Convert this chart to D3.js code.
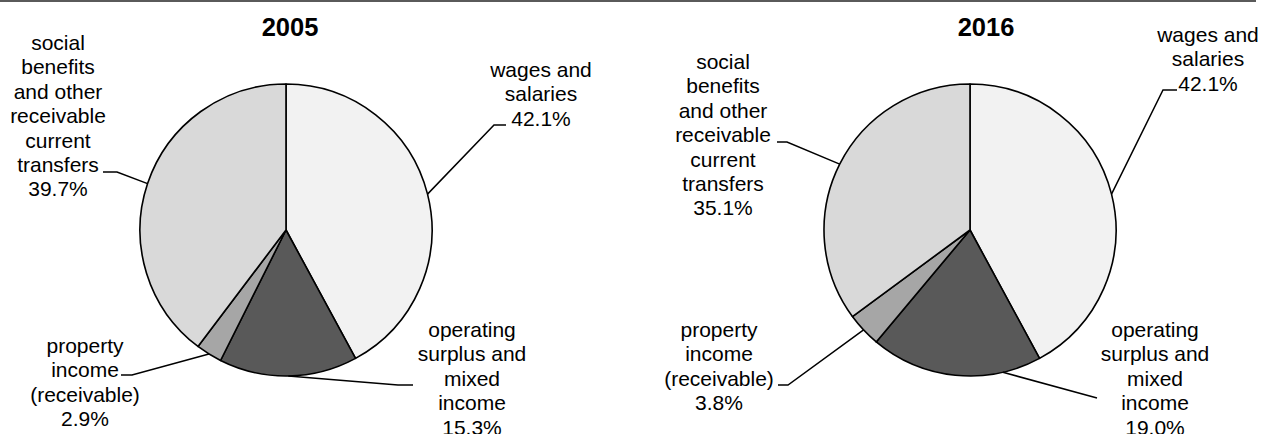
<!DOCTYPE html>
<html>
<head>
<meta charset="utf-8">
<script src="https://cdn.jsdelivr.net/npm/d3@7/dist/d3.min.js"></script>
<style>
  html, body { margin: 0; padding: 0; background: #fff; }
  svg { display: block; }
  text { font-family: "Liberation Sans", Arial, sans-serif; fill: #000; }
</style>
</head>
<body>
<svg id="chart" width="1263" height="434"></svg>
<script>
// ---- data ----
const categories = [
  "wages and salaries",
  "operating surplus and mixed income",
  "property income (receivable)",
  "social benefits and other receivable current transfers"
];
const labelLines = [
  ["wages and", "salaries"],
  ["operating", "surplus and", "mixed", "income"],
  ["property", "income", "(receivable)"],
  ["social", "benefits", "and other", "receivable", "current", "transfers"]
];
const years = ["2005", "2016"];
const values2005 = [42.1, 15.3, 2.9, 39.7];
const values2016 = [42.1, 19.0, 3.8, 35.1];
const colors = ["#f2f2f2", "#595959", "#a6a6a6", "#d9d9d9"];

// ---- layout (positions only) ----
const W = 1263, H = 434;
const R = 146;
const panels = [
  {
    year: years[0], values: values2005, cx: 286, cy: 230, titleX: 290,
    labels: [
      { x: 541, y: 77,  elbow: [494, 125], end: [506, 125] },
      { x: 472, y: 337, elbow: [398, 385], end: [413, 385] },
      { x: 85,  y: 353, elbow: [132, 375], end: [121, 375] },
      { x: 58,  y: 50,  elbow: [117, 172], end: [103, 172] }
    ]
  },
  {
    year: years[1], values: values2016, cx: 970, cy: 230, titleX: 986,
    labels: [
      { x: 1208, y: 42,  elbow: [1163, 90],  end: [1177, 90] },
      { x: 1155, y: 337, elbow: [1097, 398], end: [1097, 398], angle: 167 },
      { x: 719,  y: 337, elbow: [788, 385],  end: [778, 385] },
      { x: 723,  y: 69,  elbow: [787, 142],  end: [777, 142] }
    ]
  }
];
const lineH = 24.4;

const svg = d3.select("#chart");

// top border
svg.append("line")
  .attr("x1", 0).attr("x2", 1256).attr("y1", 1).attr("y2", 1)
  .attr("stroke", "#5a5a5a").attr("stroke-width", 2);

const pie = d3.pie().sort(null).value(d => d);
const arc = d3.arc().innerRadius(0).outerRadius(R);

panels.forEach(p => {
  const g = svg.append("g").attr("transform", `translate(${p.cx},${p.cy})`);
  const arcs = pie(p.values);

  g.selectAll("path.slice").data(arcs).enter().append("path")
    .attr("class", "slice")
    .attr("d", arc)
    .attr("fill", (d, i) => colors[i])
    .attr("stroke", "#000")
    .attr("stroke-width", 1.6)
    .attr("stroke-linejoin", "round");

  svg.append("text")
    .attr("x", p.titleX).attr("y", 36)
    .attr("text-anchor", "middle")
    .attr("font-size", 25.5).attr("font-weight", "bold")
    .text(p.year);

  arcs.forEach((d, i) => {
    const L = p.labels[i];
    const ang = L.angle !== undefined ? L.angle * Math.PI / 180 : (d.startAngle + d.endAngle) / 2;
    const ax = p.cx + R * Math.sin(ang);
    const ay = p.cy - R * Math.cos(ang);
    svg.append("polyline")
      .attr("points", [[ax, ay], L.elbow, L.end].map(q => q.join(",")).join(" "))
      .attr("fill", "none").attr("stroke", "#000").attr("stroke-width", 1.5);

    const lines = labelLines[i].concat([d3.format(".1f")(p.values[i]) + "%"]);
    const t = svg.append("text")
      .attr("text-anchor", "middle")
      .attr("font-size", 21);
    lines.forEach((s, k) => {
      t.append("tspan").attr("x", L.x).attr("y", L.y + k * lineH).text(s);
    });
  });
});
</script>
</body>
</html>
